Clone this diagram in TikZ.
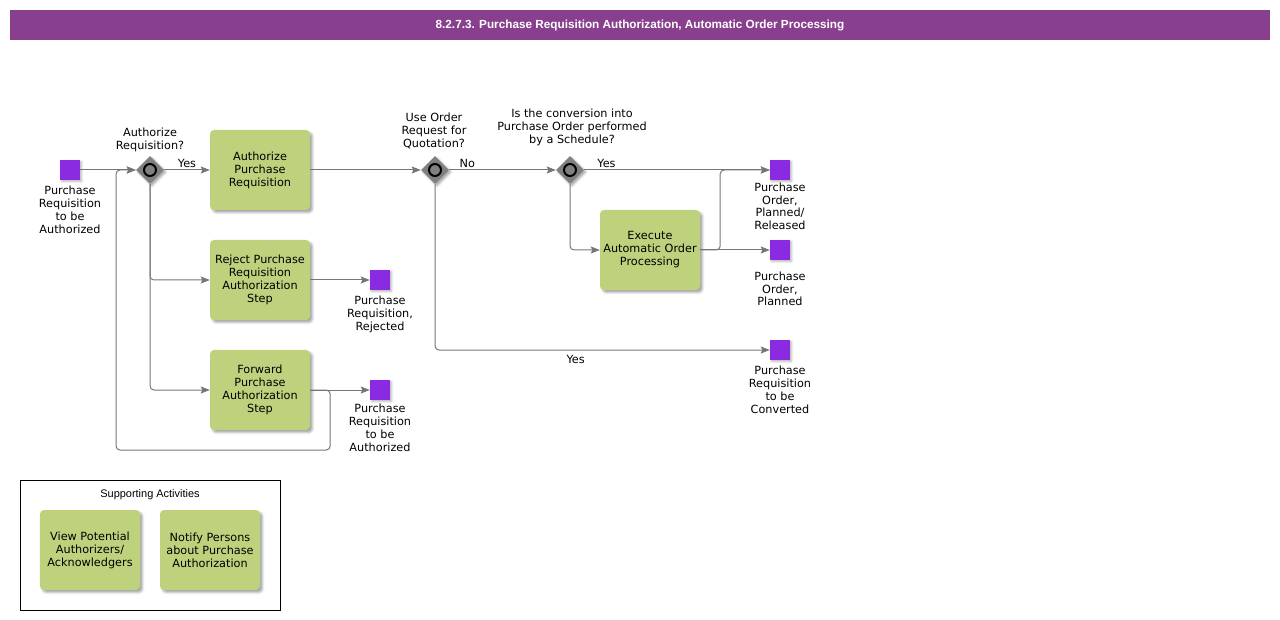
\documentclass[tikz,border=0pt]{standalone}
\usepackage{fontspec}
\setmainfont{DejaVu Sans}
\newfontfamily\headfont{Liberation Sans}
\usepackage{tikz}
\usetikzlibrary{shapes.geometric, arrows.meta, shadows.blur}
\definecolor{titlepurple}{HTML}{883F8D}
\definecolor{taskgreen}{HTML}{BED27D}
\definecolor{eventviolet}{HTML}{8A2BE2}
\definecolor{gatewaygray}{HTML}{808080}
\definecolor{flowgray}{HTML}{767676}
\tikzset{
    titlebar/.style={rectangle, fill=titlepurple, minimum width=1260bp, minimum height=30bp, inner sep=0pt, text=white, font=\headfont\bfseries\fontsize{11.8}{14}\selectfont},
    task/.style={rectangle, rounded corners=4bp, fill=taskgreen, minimum width=100bp, minimum height=80bp, align=center, inner sep=0pt, font=\fontsize{11.3}{13}\selectfont, blur shadow={shadow xshift=2.5bp, shadow yshift=-2.5bp, shadow opacity=35, shadow blur steps=4}},
    event/.style={rectangle, fill=eventviolet, minimum size=20bp, inner sep=0pt, blur shadow={shadow xshift=1.5bp, shadow yshift=-1.5bp, shadow opacity=30, shadow blur steps=3}},
    gateway/.style={diamond, fill=gatewaygray, minimum size=28bp, inner sep=0pt, blur shadow={shadow xshift=2bp, shadow yshift=-2bp, shadow opacity=35, shadow blur steps=3},
        path picture={\draw[line width=2bp, fill=gatewaygray] (path picture bounding box.center) circle (6bp);}},
    evtext/.style={align=center, inner sep=0pt, font=\fontsize{11.3}{13}\selectfont, anchor=north},
    gwtext/.style={align=center, inner sep=0pt, font=\fontsize{11.3}{13}\selectfont, anchor=north},
    flowtext/.style={inner sep=2bp, font=\fontsize{11.3}{13}\selectfont},
    flow/.style={draw=flowgray, line width=1bp, rounded corners=4bp, -{Stealth[length=9bp, width=7bp, inset=1.5bp]}},
    groupbox/.style={draw=black, line width=1bp}
}

\begin{document}
\begin{tikzpicture}[x=1bp, y=-1bp]
    \useasboundingbox (0,0) rectangle (1280,620);
    \node[titlebar] (title) at (640,25) {8.2.7.3. Purchase Requisition Authorization, Automatic Order Processing};

    % events
    \node[event] (start) at (70,170) {};
    \node[evtext] (startl) at (70,185.6) {Purchase\\Requisition\\to be\\Authorized};
    \node[event] (rejected) at (380,280) {};
    \node[evtext] (rejectedl) at (380,295.6) {Purchase\\Requisition,\\Rejected};
    \node[event] (again) at (380,390) {};
    \node[evtext] (againl) at (380,403.6) {Purchase\\Requisition\\to be\\Authorized};
    \node[event] (released) at (780,170) {};
    \node[evtext] (releasedl) at (780,182.3) {Purchase\\Order,\\Planned/\\Released};
    \node[event] (planned) at (780,250) {};
    \node[evtext] (plannedl) at (780,271.3) {Purchase\\Order,\\Planned};
    \node[event] (converted) at (780,350) {};
    \node[evtext] (convertedl) at (780,365.6) {Purchase\\Requisition\\to be\\Converted};

    % gateways
    \node[gateway] (authq) at (150,170) {};
    \node[gwtext] (authql) at (150,128) {Authorize\\Requisition?};
    \node[gateway] (rfqq) at (435,170) {};
    \node[gwtext] (rfqql) at (434,112.5) {Use Order\\Request for\\Quotation?};
    \node[gateway] (schedq) at (570,170) {};
    \node[gwtext] (schedql) at (572,109) {Is the conversion into\\Purchase Order performed\\by a Schedule?};

    % tasks
    \node[task] (authorize) at (260,170) {Authorize\\Purchase\\Requisition};
    \node[task] (reject) at (260,280) {Reject Purchase\\Requisition\\Authorization\\Step};
    \node[task] (forward) at (260,390) {Forward\\Purchase\\Authorization\\Step};
    \node[task] (execute) at (650,250) {Execute\\Automatic Order\\Processing};

    % flows
    \draw[flow] (start) -- (authq);
    \draw[flow] (authq) -- node[flowtext, above] {Yes} (authorize);
    \draw[flow] (authq) |- (reject);
    \draw[flow] (authq) |- (forward);
    \draw[flow] (reject) -- (rejected);
    \draw[flow] (forward) -- (again);
    \draw[flow] (forward.east) -- ++(20,0) |- (116,450) |- (authq);
    \draw[flow] (authorize) -- (rfqq);
    \draw[flow] (rfqq) -- node[flowtext, above, pos=0.17] {No} (schedq);
    \draw[flow] (rfqq) |- node[flowtext, below=3bp, pos=0.71] {Yes} (converted);
    \draw[flow] (schedq) -- node[flowtext, above, pos=0.12] {Yes} (released);
    \draw[flow] (schedq) |- (execute);
    \draw[flow] (execute) -- (planned);
    \draw[flow] (execute.east) -- ++(20,0) |- (released);

    % supporting activities
    \draw[groupbox] (20,480) rectangle (280,610);
    \node[font=\headfont\fontsize{11}{13}\selectfont] (supl) at (150,495) {Supporting Activities};
    \node[task] (viewauth) at (90,550) {View Potential\\Authorizers/\\Acknowledgers};
    \node[task] (notify) at (210,550) {Notify Persons\\about Purchase\\Authorization};
\end{tikzpicture}
\end{document}
